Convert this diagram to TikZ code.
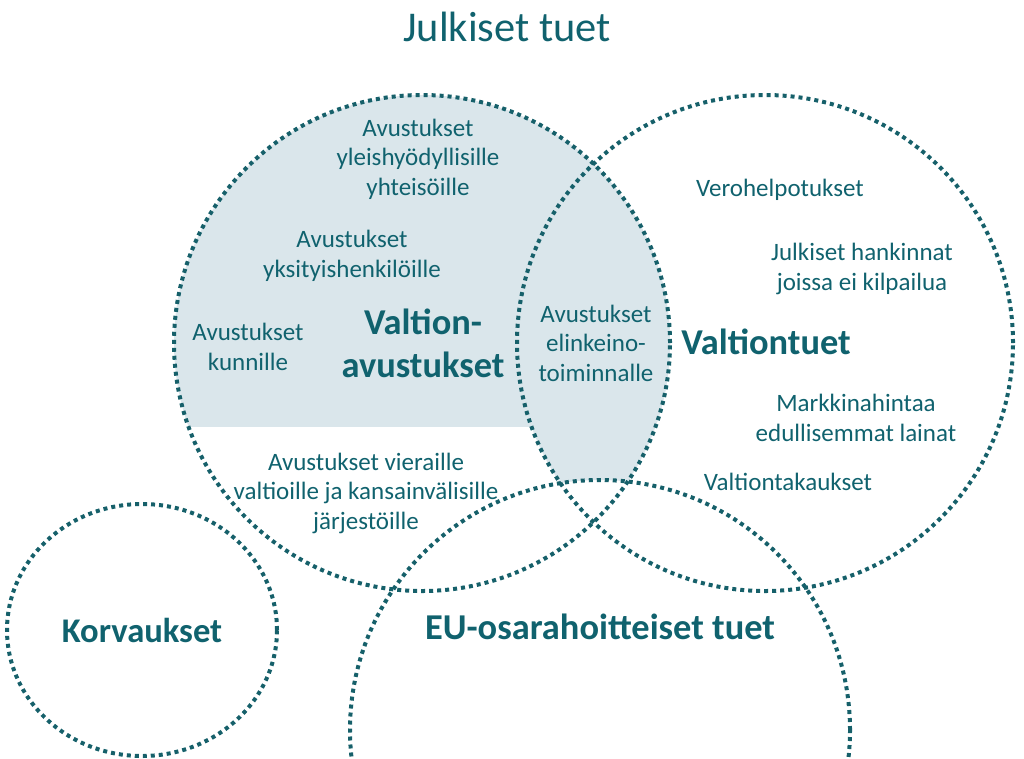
\documentclass[tikz,border=0pt]{standalone}
\usepackage{fontspec}
\setmainfont{Carlito}
\definecolor{teal1}{RGB}{16,98,110}
\definecolor{dotc}{RGB}{22,96,106}
\definecolor{shade1}{RGB}{218,230,235}
\begin{document}
\begin{tikzpicture}[x=1pt,y=-1pt,
  ring/.style={draw=dotc,line width=4pt,dash pattern=on 4pt off 4pt},
  lbl/.style={text=teal1,align=center,inner sep=0pt,font=\fontsize{25}{29.5}\selectfont},
  big/.style={text=teal1,align=center,inner sep=0pt,font=\fontsize{36.4}{43}\selectfont\bfseries}]
\useasboundingbox (0,0) rectangle (1024,758);
\def\Lc{(422,343) circle[radius=248pt]}
\def\Rc{(765,343) circle[radius=248pt]}
\def\Ec{(600,730) circle[radius=250pt]}
% shading
\begin{scope}
  \clip \Lc;
  \fill[shade1] (0,0) rectangle (1024,427);
\end{scope}
\begin{scope}
  \clip \Lc;
  \clip \Rc;
  \fill[shade1,even odd rule] (0,0) rectangle (1024,758) \Ec;
\end{scope}
% circles
\draw[ring] \Lc;
\draw[ring] \Rc;
\draw[ring] \Ec;
\draw[ring] (142,630) ellipse[x radius=135pt, y radius=126pt];
% texts
\node[lbl,font=\fontsize{42.4}{50}\selectfont] (title) at (507,27) {Julkiset tuet};
\node[lbl] (yh) at (418,159) {Avustukset\\yleishyödyllisille\\yhteisöille};
\node[lbl] (yk) at (352,256) {Avustukset\\yksityishenkilöille};
\node[lbl] (ku) at (248,347) {Avustukset\\kunnille};
\node[big] (va) at (423,343) {Valtion-\\avustukset};
\node[lbl] (el) at (596,343) {Avustukset\\elinkeino-\\toiminnalle};
\node[big] (vt) at (766,342) {Valtiontuet};
\node[lbl] (vh) at (780,190) {Verohelpotukset};
\node[lbl] (jh) at (862,269) {Julkiset hankinnat\\joissa ei kilpailua};
\node[lbl] (ml) at (856,418) {Markkinahintaa\\edullisemmat lainat};
\node[lbl] (tk) at (788,482) {Valtiontakaukset};
\node[lbl] (vi) at (366,493) {Avustukset vieraille\\valtioille ja kansainvälisille\\järjestöille};
\node[big,font=\fontsize{34.6}{43}\selectfont\bfseries] (ko) at (142,630) {Korvaukset};
\node[big] (eu) at (600,627) {EU-osarahoitteiset tuet};
\end{tikzpicture}
\end{document}
